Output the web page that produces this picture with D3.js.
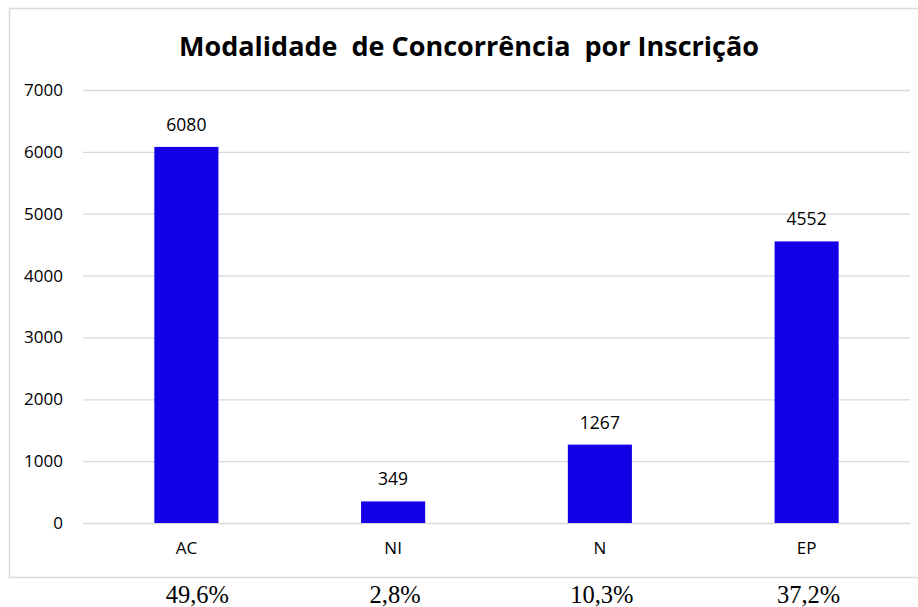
<!DOCTYPE html>
<html><head><meta charset="utf-8">
<script src="https://cdn.jsdelivr.net/npm/d3@7"></script>
<style>body{margin:0;background:#fff}svg{display:block}</style>
</head><body>
<svg id="c" width="918" height="607"></svg>
<script>
const categories = ["AC", "NI", "N", "EP"];
const values = [6080, 349, 1267, 4552];
const percents = ["49,6%", "2,8%", "10,3%", "37,2%"];
const yTicks = [0, 1000, 2000, 3000, 4000, 5000, 6000, 7000];
const title = "Modalidade  de Concorrência  por Inscrição";

const svg = d3.select("#c");
const W = 918, H = 607;
const m = {left: 83, right: 8, top: 90, bottom: 84};
const x = d3.scaleBand().domain(categories).range([m.left, W - m.right]).paddingInner(0.69).paddingOuter(0.345);
const y = d3.scaleLinear().domain([0, 7000]).range([H - m.bottom, m.top]);
const FONT = "'Open Sans', sans-serif";

// chart border
svg.append("rect").attr("x", 9.5).attr("y", 8.5).attr("width", 930).attr("height", 569)
  .attr("fill", "#fff").attr("stroke", "#d9d9d9").attr("stroke-width", 1.5);

// title
svg.append("text").attr("x", 469).attr("y", 56).attr("text-anchor", "middle")
  .attr("font-family", FONT).attr("font-weight", "bold").attr("font-size", 27)
  .attr("fill", "#000").style("white-space", "pre").text(title);

// gridlines
const grid = svg.append("g").attr("transform", `translate(${m.left},0)`)
  .call(d3.axisLeft(y).tickValues(yTicks).tickSize(-(W - m.right - m.left)).tickFormat(""));
grid.select(".domain").remove();
grid.selectAll("line").attr("stroke", "#d9d9d9").attr("stroke-width", 1.3);

// y labels
const ya = svg.append("g").attr("transform", `translate(${m.left - 20},0)`)
  .call(d3.axisLeft(y).tickValues(yTicks).tickSize(0).tickPadding(0).tickFormat(d3.format("d")));
ya.select(".domain").remove();
ya.selectAll("text").attr("font-family", FONT).attr("font-size", 17).attr("fill", "#000");

// bars
svg.selectAll("rect.bar").data(values).join("rect").attr("class", "bar")
  .attr("x", (d, i) => x(categories[i])).attr("width", x.bandwidth())
  .attr("y", d => y(d)).attr("height", d => y(0) - y(d)).attr("fill", "#1400e6");

// value labels
svg.selectAll("text.val").data(values).join("text").attr("class", "val")
  .attr("x", (d, i) => x(categories[i]) + x.bandwidth() / 2).attr("y", d => y(d) - 16)
  .attr("text-anchor", "middle").attr("font-family", FONT).attr("font-size", 17.5)
  .attr("fill", "#000").text(d => d);

// x axis labels
const xa = svg.append("g").attr("transform", `translate(0,${y(0)})`)
  .call(d3.axisBottom(x).tickSize(0).tickPadding(19));
xa.select(".domain").remove();
xa.selectAll("text").attr("font-family", FONT).attr("font-size", 17).attr("fill", "#000");

// percents
svg.selectAll("text.pct").data(percents).join("text").attr("class", "pct")
  .attr("x", (d, i) => x(categories[i]) + x.bandwidth() / 2 + (i === 0 ? 11 : 2)).attr("y", 603)
  .attr("text-anchor", "middle").attr("font-family", "'Liberation Serif', serif").attr("font-size", 24.5)
  .attr("fill", "#000").text(d => d);
</script>
</body></html>
